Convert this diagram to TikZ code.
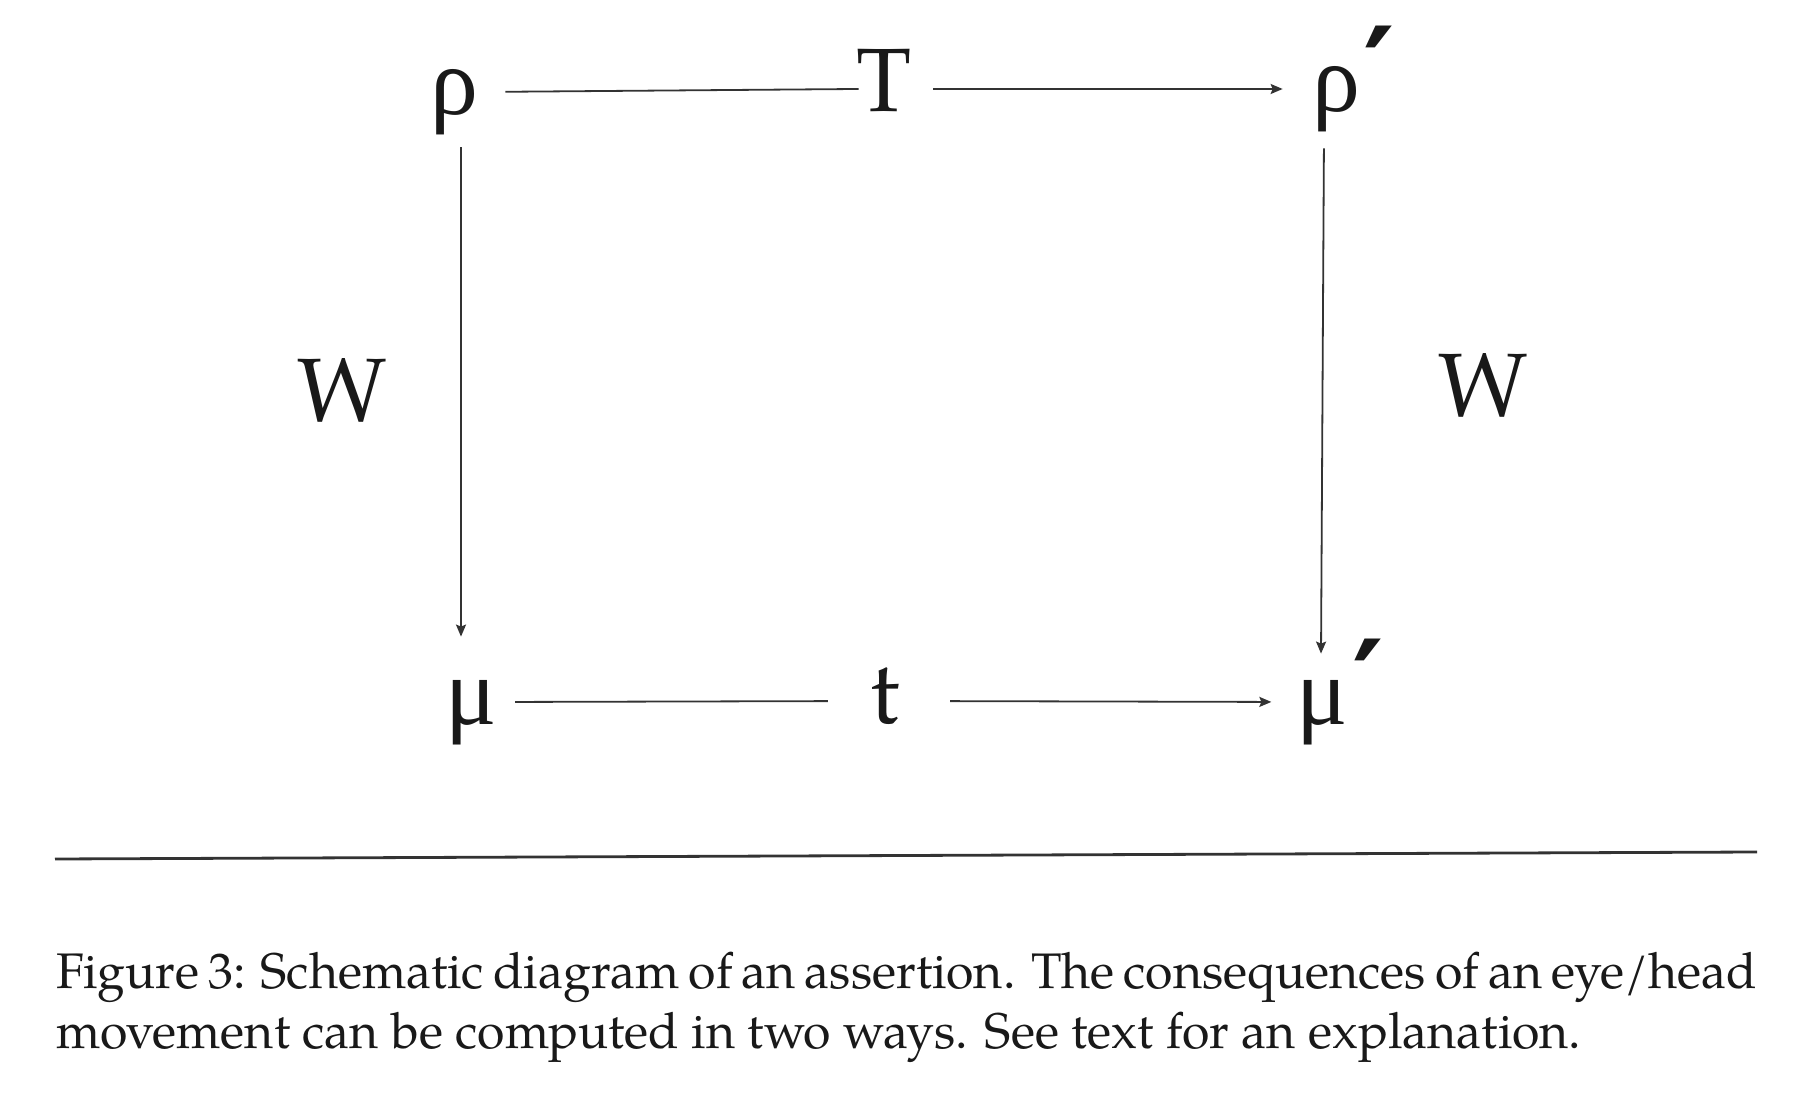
\documentclass[tikz,border=0pt]{standalone}
\usepackage{fontspec}
\setmainfont{TeX Gyre Pagella}
\newfontfamily\greekfont{Liberation Serif}
\newfontfamily\primefont{DejaVu Serif}
\usetikzlibrary{arrows.meta}
\newcommand{\myprime}{\rlap{\kern2pt\primefont\bfseries\fontsize{60pt}{60pt}\selectfont\raisebox{-1pt}{′}}}
\begin{document}
\begin{tikzpicture}[x=0.5pt,y=-0.5pt,
  lbl/.style={inner sep=0pt, anchor=base, text height=34pt, text depth=11pt,
              font=\fontsize{45pt}{50pt}\selectfont, text=black!90},
  grk/.style={lbl, font=\greekfont\fontsize{48pt}{52pt}\selectfont},
  conn/.style={line width=0.9pt, draw=black!80},
  arr/.style={conn, -{Stealth[length=6pt,width=5pt,inset=1pt]}},
  captxt/.style={inner sep=0pt, anchor=base west, text=black!90,
              font=\fontsize{25pt}{30pt}\selectfont},
]
\useasboundingbox[fill=white] (0,0) rectangle (1812,1112);

% nodes
\node[grk] (rho)  at (454,115)    {ρ};
\node[lbl] (T)    at (884.5,112)  {T};
\node[grk] (rhop) at (1336,112)   {ρ\myprime};
\node[grk] (mu)   at (471,725)    {μ};
\node[lbl] (t)    at (885,724)    {t};
\node[grk] (mup)  at (1322.5,725) {μ\myprime};
\node[lbl] (W1)   at (342,422)    {W};
\node[lbl] (W2)   at (1483,417)   {W};

% connectors
\draw[conn, shorten <=13.5pt, shorten >=-1pt] (rho.east) -- (T.west);
\draw[arr,  shorten <=10.5pt, shorten >=14.5pt] (T.east) -- (rhop.west);
\draw[conn, shorten <=9pt, shorten >=21pt] (mu.east) -- (t.west);
\draw[arr,  shorten <=25pt, shorten >=12.5pt] (t.east) -- (mup.west);
\draw[arr,  shorten <=5pt, shorten >=10pt] ([xshift=3.5pt]rho.south) -- ([xshift=-5pt]mu.north);
\draw[arr,  shorten <=7pt, shorten >=1.5pt] ([xshift=-6pt]rhop.south) -- ([xshift=-0.75pt]mup.north);

% rule
\draw[line width=1.4pt, black!80] (55,859) -- (1757,852);

% caption
\node[captxt] (cap1) at (56,988) {\makebox[850.5pt][s]{Figure 3: Schematic diagram of an assertion. The consequences of an eye/head}};
\node[captxt] (cap2) at (56,1048) {movement can be computed in two ways. See text for an explanation.};
\end{tikzpicture}
\end{document}
